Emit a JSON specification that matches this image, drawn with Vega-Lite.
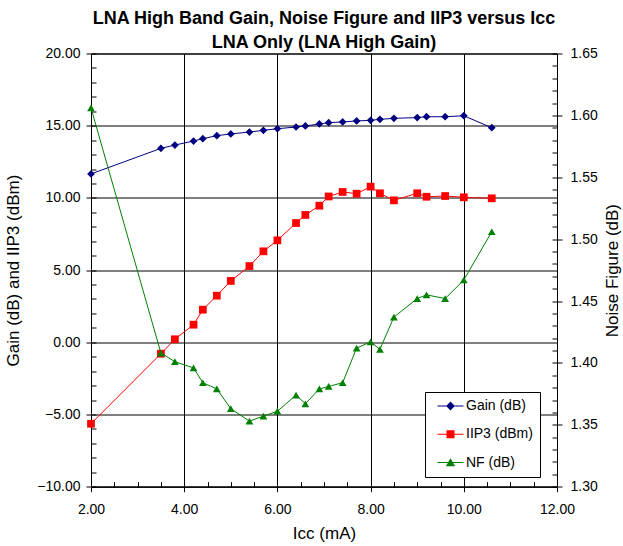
{
  "$schema": "https://vega.github.io/schema/vega-lite/v6.json",
  "width": 466,
  "height": 433.2,
  "autosize": {"type": "none"},
  "padding": {"left": 91, "top": 53.5, "right": 66, "bottom": 59.3},
  "background": "white",
  "config": {
    "view": {"stroke": "#000", "strokeWidth": 1},
    "font": "Liberation Sans"
  },
  "title": {
    "text": ["LNA High Band Gain, Noise Figure and IIP3 versus Iᴄᴄ", "LNA Only (LNA High Gain)"],
    "anchor": "middle",
    "frame": "group",
    "font": "Liberation Sans",
    "fontSize": 18,
    "fontWeight": "bold",
    "color": "#000",
    "lineHeight": 24,
    "offset": -5
  },
  "datasets": {
    "d": [
      {"I": 2.0, "Gain": 11.66, "IIP3": -5.64, "NF": 1.606},
      {"I": 3.5, "Gain": 13.43, "IIP3": -0.79, "NF": 1.408},
      {"I": 3.8, "Gain": 13.66, "IIP3": 0.21, "NF": 1.401},
      {"I": 4.2, "Gain": 13.94, "IIP3": 1.22, "NF": 1.396},
      {"I": 4.4, "Gain": 14.10, "IIP3": 2.26, "NF": 1.384},
      {"I": 4.7, "Gain": 14.31, "IIP3": 3.23, "NF": 1.379},
      {"I": 5.0, "Gain": 14.43, "IIP3": 4.25, "NF": 1.363},
      {"I": 5.4, "Gain": 14.56, "IIP3": 5.28, "NF": 1.353},
      {"I": 5.7, "Gain": 14.68, "IIP3": 6.30, "NF": 1.357},
      {"I": 6.0, "Gain": 14.79, "IIP3": 7.06, "NF": 1.361},
      {"I": 6.4, "Gain": 14.91, "IIP3": 8.26, "NF": 1.374},
      {"I": 6.6, "Gain": 14.98, "IIP3": 8.82, "NF": 1.367},
      {"I": 6.9, "Gain": 15.12, "IIP3": 9.46, "NF": 1.379},
      {"I": 7.1, "Gain": 15.21, "IIP3": 10.10, "NF": 1.381},
      {"I": 7.4, "Gain": 15.26, "IIP3": 10.41, "NF": 1.384},
      {"I": 7.7, "Gain": 15.33, "IIP3": 10.29, "NF": 1.412},
      {"I": 8.0, "Gain": 15.37, "IIP3": 10.78, "NF": 1.417},
      {"I": 8.2, "Gain": 15.44, "IIP3": 10.32, "NF": 1.411},
      {"I": 8.5, "Gain": 15.51, "IIP3": 9.83, "NF": 1.437},
      {"I": 9.0, "Gain": 15.56, "IIP3": 10.32, "NF": 1.452},
      {"I": 9.2, "Gain": 15.62, "IIP3": 10.08, "NF": 1.455},
      {"I": 9.6, "Gain": 15.62, "IIP3": 10.13, "NF": 1.452},
      {"I": 10.0, "Gain": 15.69, "IIP3": 10.04, "NF": 1.467},
      {"I": 10.6, "Gain": 14.86, "IIP3": 9.97, "NF": 1.506}
    ],
    "leg": [{"s": "Gain (dB)"}, {"s": "IIP3 (dBm)"}, {"s": "NF (dB)"}]
  },
  "layer": [
    {
      "data": {"name": "d"},
      "transform": [{"fold": ["Gain", "IIP3"], "as": ["series", "v"]}],
      "layer": [
        {
          "mark": {"type": "line", "strokeWidth": 1},
          "encoding": {
            "x": {"field": "I", "type": "quantitative", "scale": {"domain": [2, 12], "nice": false, "zero": false},
              "axis": {"orient": "bottom", "values": [2, 4, 6, 8, 10, 12], "format": ".2f", "grid": true, "gridColor": "#000", "gridWidth": 1, "gridOpacity": 1,
                "domain": true, "domainColor": "#000", "domainWidth": 1, "ticks": true, "tickColor": "#000", "tickSize": 5, "tickWidth": 1,
                "labelFont": "Liberation Sans", "labelFontSize": 14, "labelColor": "#000", "labelPadding": 11, "labelFlush": false, "labelOverlap": false,
                "title": "Iᴄᴄ (mA)", "titleFont": "Liberation Sans", "titleFontSize": 17, "titleFontWeight": "normal", "titleColor": "#000", "titlePadding": 9}},
            "y": {"field": "v", "type": "quantitative", "scale": {"domain": [-10, 20], "nice": false, "zero": false},
              "axis": {"orient": "left", "values": [-10, -5, 0, 5, 10, 15, 20], "format": ".2f", "grid": true, "gridColor": "#000", "gridWidth": 1, "gridOpacity": 1,
                "domain": true, "domainColor": "#000", "domainWidth": 1, "ticks": true, "tickColor": "#000", "tickSize": 5, "tickWidth": 1,
                "labelFont": "Liberation Sans", "labelFontSize": 14, "labelColor": "#000", "labelPadding": 6, "labelOverlap": false, "labelFlush": false,
                "title": "Gain (dB) and IIP3 (dBm)", "titleFont": "Liberation Sans", "titleFontSize": 17, "titleFontWeight": "normal", "titleColor": "#000", "titlePadding": 14}},
            "color": {"field": "series", "type": "nominal", "scale": {"domain": ["Gain", "IIP3"], "range": ["#000080", "#ff0000"]}, "legend": null}
          }
        },
        {
          "mark": {"type": "point", "filled": true, "opacity": 1, "size": 60},
          "encoding": {
            "x": {"field": "I", "type": "quantitative", "scale": {"domain": [2, 12], "nice": false, "zero": false},
              "axis": {"orient": "bottom", "values": [2, 2.5, 3, 3.5, 4, 4.5, 5, 5.5, 6, 6.5, 7, 7.5, 8, 8.5, 9, 9.5, 10, 10.5, 11, 11.5, 12],
                "grid": false, "domain": false, "labels": false, "ticks": true, "tickColor": "#000", "tickSize": -5, "tickWidth": 1, "title": null}},
            "y": {"field": "v", "type": "quantitative", "scale": {"domain": [-10, 20], "nice": false, "zero": false},
              "axis": {"orient": "left", "values": [-10, -9, -8, -7, -6, -5, -4, -3, -2, -1, 0, 1, 2, 3, 4, 5, 6, 7, 8, 9, 10, 11, 12, 13, 14, 15, 16, 17, 18, 19, 20],
                "grid": false, "domain": false, "labels": false, "ticks": true, "tickColor": "#000", "tickSize": -5, "tickWidth": 1, "title": null}},
            "color": {"field": "series", "type": "nominal", "scale": {"domain": ["Gain", "IIP3"], "range": ["#000080", "#ff0000"]}, "legend": null},
            "shape": {"field": "series", "type": "nominal", "scale": {"domain": ["Gain", "IIP3"], "range": ["diamond", "square"]}, "legend": null}
          }
        }
      ],
      "resolve": {"axis": {"x": "independent", "y": "independent"}}
    },
    {
      "data": {"name": "d"},
      "layer": [
        {
          "mark": {"type": "line", "strokeWidth": 1, "color": "#008000"},
          "encoding": {
            "x": {"field": "I", "type": "quantitative", "scale": {"domain": [2, 12], "nice": false, "zero": false}, "axis": null},
            "y": {"field": "NF", "type": "quantitative", "scale": {"domain": [1.3, 1.65], "nice": false, "zero": false},
              "axis": {"orient": "right", "values": [1.3, 1.35, 1.4, 1.45, 1.5, 1.55, 1.6, 1.65], "format": ".2f", "grid": false,
                "domain": true, "domainColor": "#000", "domainWidth": 1, "ticks": true, "tickColor": "#000", "tickSize": 5, "tickWidth": 1,
                "labelFont": "Liberation Sans", "labelFontSize": 14, "labelColor": "#000", "labelPadding": 8, "labelOverlap": false, "labelFlush": false,
                "title": "Noise Figure (dB)", "titleAngle": 270, "titleBaseline": "top", "titleFont": "Liberation Sans", "titleFontSize": 17, "titleFontWeight": "normal", "titleColor": "#000", "titlePadding": 7}}
          }
        },
        {
          "mark": {"type": "point", "shape": "triangle-up", "filled": true, "opacity": 1, "size": 60, "color": "#008000"},
          "encoding": {
            "x": {"field": "I", "type": "quantitative", "scale": {"domain": [2, 12], "nice": false, "zero": false}, "axis": null},
            "y": {"field": "NF", "type": "quantitative", "scale": {"domain": [1.3, 1.65], "nice": false, "zero": false},
              "axis": {"orient": "right", "values": [1.3, 1.31, 1.32, 1.33, 1.34, 1.35, 1.36, 1.37, 1.38, 1.39, 1.4, 1.41, 1.42, 1.43, 1.44, 1.45, 1.46, 1.47, 1.48, 1.49, 1.5, 1.51, 1.52, 1.53, 1.54, 1.55, 1.56, 1.57, 1.58, 1.59, 1.6, 1.61, 1.62, 1.63, 1.64, 1.65],
                "grid": false, "domain": false, "labels": false, "ticks": true, "tickColor": "#000", "tickSize": -5, "tickWidth": 1, "title": null}}
          }
        }
      ],
      "resolve": {"axis": {"y": "independent"}}
    },
    {
      "data": {"name": "leg"},
      "mark": {"type": "point", "filled": true, "opacity": 0},
      "encoding": {
        "color": {"field": "s", "type": "nominal", "scale": {"domain": ["Gain (dB)", "IIP3 (dBm)", "NF (dB)"], "range": ["#000080", "#ff0000", "#008000"]},
          "legend": {"title": null, "orient": "none", "legendX": 334, "legendY": 338.5, "direction": "vertical",
            "strokeColor": "#000", "fillColor": "#fff", "padding": 7, "symbolSize": 64, "symbolOffset": 11.5, "labelOffset": 8.5, "rowPadding": 13.3,
            "labelFont": "Liberation Sans", "labelFontSize": 14, "labelColor": "#000", "symbolOpacity": 1,
            "labelExpr": "datum.label + ' '"}},
        "shape": {"field": "s", "type": "nominal", "scale": {"domain": ["Gain (dB)", "IIP3 (dBm)", "NF (dB)"],
          "range": ["M-3.25,-0.13H3.25V0.13H-3.25ZM0,-1.1L1.1,0L0,1.1L-1.1,0Z", "M-3.25,-0.13H3.25V0.13H-3.25ZM-1,-1H1V1H-1Z", "M-3.25,-0.13H3.25V0.13H-3.25ZM0,-1.1L1.15,0.9H-1.15Z"]},
          "legend": {"title": null, "orient": "none", "legendX": 334, "legendY": 338.5, "direction": "vertical",
            "strokeColor": "#000", "fillColor": "#fff", "padding": 7, "symbolSize": 64, "symbolOffset": 11.5, "labelOffset": 8.5, "rowPadding": 13.3,
            "labelFont": "Liberation Sans", "labelFontSize": 14, "labelColor": "#000", "symbolOpacity": 1,
            "labelExpr": "datum.label + ' '"}}
      }
    }
  ],
  "resolve": {"scale": {"y": "independent", "shape": "independent", "color": "independent"}, "axis": {"x": "independent", "y": "independent"}}
}
